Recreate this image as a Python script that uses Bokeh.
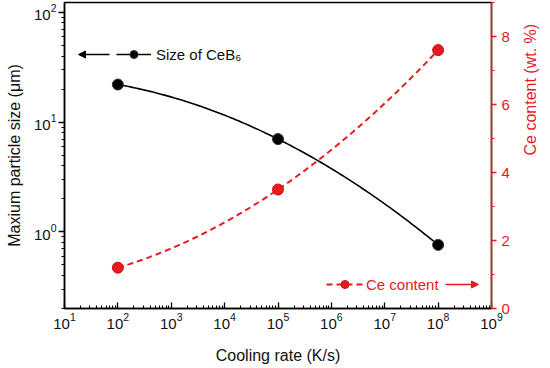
import numpy as np
from bokeh.plotting import figure
from bokeh.models import (Range1d, LinearAxis, LinearScale, Legend, LegendItem, Arrow,
                          NormalHead, SingleIntervalTicker)
from bokeh.embed import file_html
from bokeh.resources import INLINE

# ---- data ----
cooling_rate = [1e2, 1e5, 1e8]          # K/s
size_ceb6 = [22.0, 7.0, 0.76]           # um (left, log)
ce_content = [1.2, 3.5, 7.6]            # wt. % (right)

RED = "#e8191f"
FONT = "Liberation Sans"

p = figure(width=550, height=366, x_axis_type="log", y_axis_type="log",
           x_range=Range1d(10, 1e9), y_range=Range1d(0.2, 123),
           output_backend="svg", toolbar_location=None,
           min_border_left=64, min_border_right=54, min_border_bottom=55, min_border_top=2)
p.grid.visible = False
p.outline_line_color = "black"
p.outline_line_width = 1.5
p.background_fill_color = "white"
p.border_fill_color = "white"

p.extra_y_ranges = {"ce": Range1d(0, 9)}
p.extra_y_scales = {"ce": LinearScale()}

# smooth curves drawn through the measured points (quadratic in log-rate)
lx = np.log10(cooling_rate)
xs = np.linspace(lx[0], lx[-1], 120)
cs = np.polyfit(lx, np.log10(size_ceb6), 2)
cr = np.polyfit(lx, ce_content, 2)

bl = p.line(10 ** xs, 10 ** np.polyval(cs, xs), line_color="black", line_width=1.6)
bp = p.scatter(cooling_rate, size_ceb6, size=11, marker="circle",
               fill_color="black", line_color="#333333")
rl = p.line(10 ** xs, np.polyval(cr, xs), line_color=RED, line_width=2,
            line_dash="6 4", y_range_name="ce")
rp = p.scatter(cooling_rate, ce_content, size=11, marker="circle",
               fill_color=RED, line_color="#cc1010", y_range_name="ce")

# axes styling
xa = p.xaxis[0]
xa.axis_label = "Cooling rate (K/s)"
xa.major_tick_in = 6
xa.major_tick_out = 0
xa.minor_tick_in = 3
xa.minor_tick_out = 0
xa.major_label_standoff = 4
xa.axis_label_standoff = 15

ya = p.yaxis[0]
ya.axis_label = "Maxium particle size (\u03bcm)"
ya.major_tick_in = 0
ya.major_tick_out = 6
ya.minor_tick_in = 0
ya.minor_tick_out = 3
ya.major_label_standoff = 2
ya.axis_label_standoff = 8

ra = LinearAxis(y_range_name="ce", axis_label="Ce content (wt. %)",
                ticker=SingleIntervalTicker(interval=2, num_minor_ticks=2))
ra.major_tick_in = 0
ra.major_tick_out = 5
ra.minor_tick_in = 0
ra.minor_tick_out = 3
ra.major_label_standoff = 5
ra.axis_label_standoff = 18
ra.axis_label_orientation = np.pi / 2
ra.axis_line_color = RED
ra.major_tick_line_color = RED
ra.minor_tick_line_color = RED
ra.major_label_text_color = RED
ra.axis_label_text_color = RED
p.add_layout(ra, "right")

for ax in (xa, ya, ra):
    ax.axis_line_width = 1.5
    ax.major_tick_line_width = 1.3
    ax.minor_tick_line_width = 1.1
    ax.major_label_text_font = FONT
    ax.major_label_text_font_size = "15px"
    ax.axis_label_text_font = FONT
    ax.axis_label_text_font_size = "16px"
    ax.axis_label_text_font_style = "normal"
for ax in (xa, ya):
    ax.axis_line_color = "black"
    ax.major_tick_line_color = "black"
    ax.minor_tick_line_color = "black"
    ax.major_label_text_color = "#111111"
    ax.axis_label_text_color = "#111111"

# legends
def style_legend(lg, color):
    lg.background_fill_alpha = 0
    lg.border_line_alpha = 0
    lg.padding = 0
    lg.margin = 0
    lg.spacing = 0
    lg.glyph_height = 20
    lg.label_height = 20
    lg.label_text_font = FONT
    lg.label_text_font_size = "15px"
    lg.label_text_color = color

lg1 = Legend(items=[LegendItem(label="Size of CeB\u2086", renderers=[bl, bp])],
             location=(52, 244))
style_legend(lg1, "#111111")
lg1.glyph_width = 35
lg1.label_standoff = 5
p.add_layout(lg1, "center")

lg2 = Legend(items=[LegendItem(label="Ce content", renderers=[rl, rp])],
             location=(262, 14))
style_legend(lg2, RED)
lg2.glyph_width = 37
lg2.label_standoff = 3
p.add_layout(lg2, "center")

p.add_layout(Arrow(x_start=45, y_start=254, x_end=14, y_end=254,
                   start_units="screen", end_units="screen",
                   line_color="black", line_width=1.6,
                   end=NormalHead(size=7, fill_color="black", line_color="black")))
p.add_layout(Arrow(x_start=381, y_start=24, x_end=414, y_end=24,
                   start_units="screen", end_units="screen",
                   line_color=RED, line_width=1.6,
                   end=NormalHead(size=7, fill_color=RED, line_color=RED)))

open("out.html", "w").write(file_html(p, INLINE))
